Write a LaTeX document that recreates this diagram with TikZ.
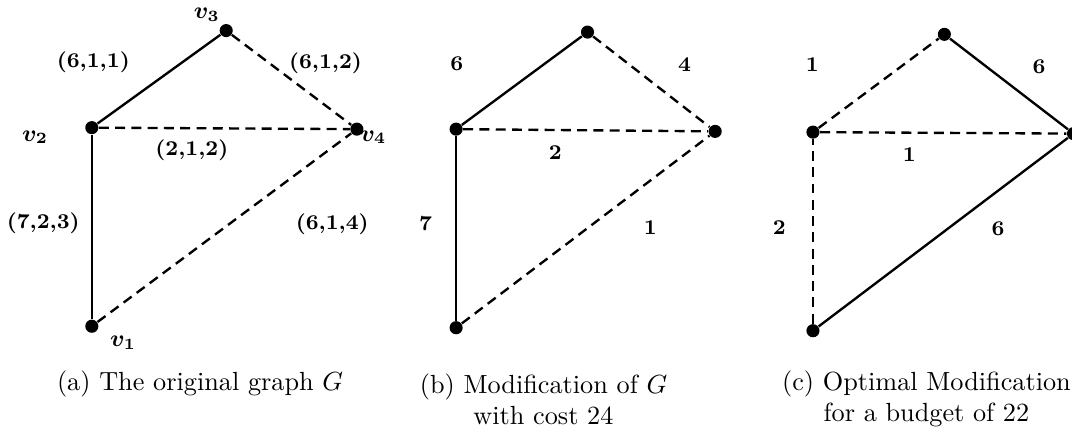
\documentclass[tikz,border=0pt]{standalone}
\usepackage{amsmath,amssymb,bm}
\usepackage{tikz}
\usetikzlibrary{positioning}

\begin{document}
\begin{tikzpicture}[
  every node/.style={font=\normalsize},
  vertex/.style={circle,fill=black,inner sep=0pt,minimum size=5pt},
  keptedge/.style={line width=0.9pt},
  dashedge/.style={line width=0.9pt,dash pattern=on 3.8pt off 2.4pt},
  weight/.style={font=\footnotesize\bfseries},
  vlabel/.style={inner sep=0pt,font=\small}
]
  \useasboundingbox (0,0) rectangle (14.36,5.86);

  % (a) Graphe d'origine avec les triplets de poids.
  \node[vertex] (a1) at (1.23,1.49) {};
  \node[vertex] (a2) at (1.23,4.15) {};
  \node[vertex] (a3) at (3.03,5.45) {};
  \node[vertex] (a4) at (4.78,4.13) {};
  \draw[keptedge] (a1) -- (a2);
  \draw[keptedge] (a2) -- (a3);
  \draw[dashedge] (a3) -- (a4);
  \draw[dashedge] (a2) -- (a4);
  \draw[dashedge] (a1) -- (a4);
  \node[vlabel] (la1) at (1.65,1.27) {$\bm{v_1}$};
  \node[vlabel] (la2) at (0.47,4.02) {$\bm{v_2}$};
  \node[vlabel] (la3) at (2.77,5.66) {$\bm{v_3}$};
  \node[vlabel] (la4) at (5.00,4.02) {$\bm{v_4}$};
  \node[weight] (wa23) at (1.25,5.03) {(6,1,1)};
  \node[weight] (wa34) at (4.36,5.01) {(6,1,2)};
  \node[weight] (wa24) at (2.57,3.85) {(2,1,2)};
  \node[weight] (wa12) at (0.58,2.87) {(7,2,3)};
  \node[weight] (wa14) at (4.45,2.85) {(6,1,4)};
  \node (capa) at (2.68,0.72) {(a) The original graph $G$};

  % (b) Une modification de cout 24.
  \node[vertex] (b1) at (6.11,1.47) {};
  \node[vertex] (b2) at (6.11,4.13) {};
  \node[vertex] (b3) at (7.87,5.43) {};
  \node[vertex] (b4) at (9.58,4.10) {};
  \draw[keptedge] (b1) -- (b2);
  \draw[keptedge] (b2) -- (b3);
  \draw[dashedge] (b3) -- (b4);
  \draw[dashedge] (b2) -- (b4);
  \draw[dashedge] (b1) -- (b4);
  \node[weight] (wb23) at (6.12,5.01) {6};
  \node[weight] (wb34) at (9.17,5.00) {4};
  \node[weight] (wb24) at (7.44,3.82) {2};
  \node[weight] (wb12) at (5.70,2.87) {7};
  \node[weight] (wb14) at (8.71,2.81) {1};
  \node[align=center] (capb) at (7.28,0.51)
    {(b) Modification of $G$\\with cost 24};

  % (c) La modification optimale pour un budget de 22.
  \node[vertex] (c1) at (10.89,1.43) {};
  \node[vertex] (c2) at (10.89,4.09) {};
  \node[vertex] (c3) at (12.65,5.40) {};
  \node[vertex] (c4) at (14.38,4.07) {};
  \draw[dashedge] (c1) -- (c2);
  \draw[dashedge] (c2) -- (c3);
  \draw[keptedge] (c3) -- (c4);
  \draw[dashedge] (c2) -- (c4);
  \draw[keptedge] (c1) -- (c4);
  \node[weight] (wc23) at (10.88,4.99) {1};
  \node[weight] (wc34) at (13.92,4.97) {6};
  \node[weight] (wc24) at (12.18,3.79) {1};
  \node[weight] (wc12) at (10.44,2.81) {2};
  \node[weight] (wc14) at (13.37,2.80) {6};
  \node[align=center] (capc) at (12.41,0.52)
    {(c) Optimal Modification\\for a budget of 22};
\end{tikzpicture}
\end{document}
